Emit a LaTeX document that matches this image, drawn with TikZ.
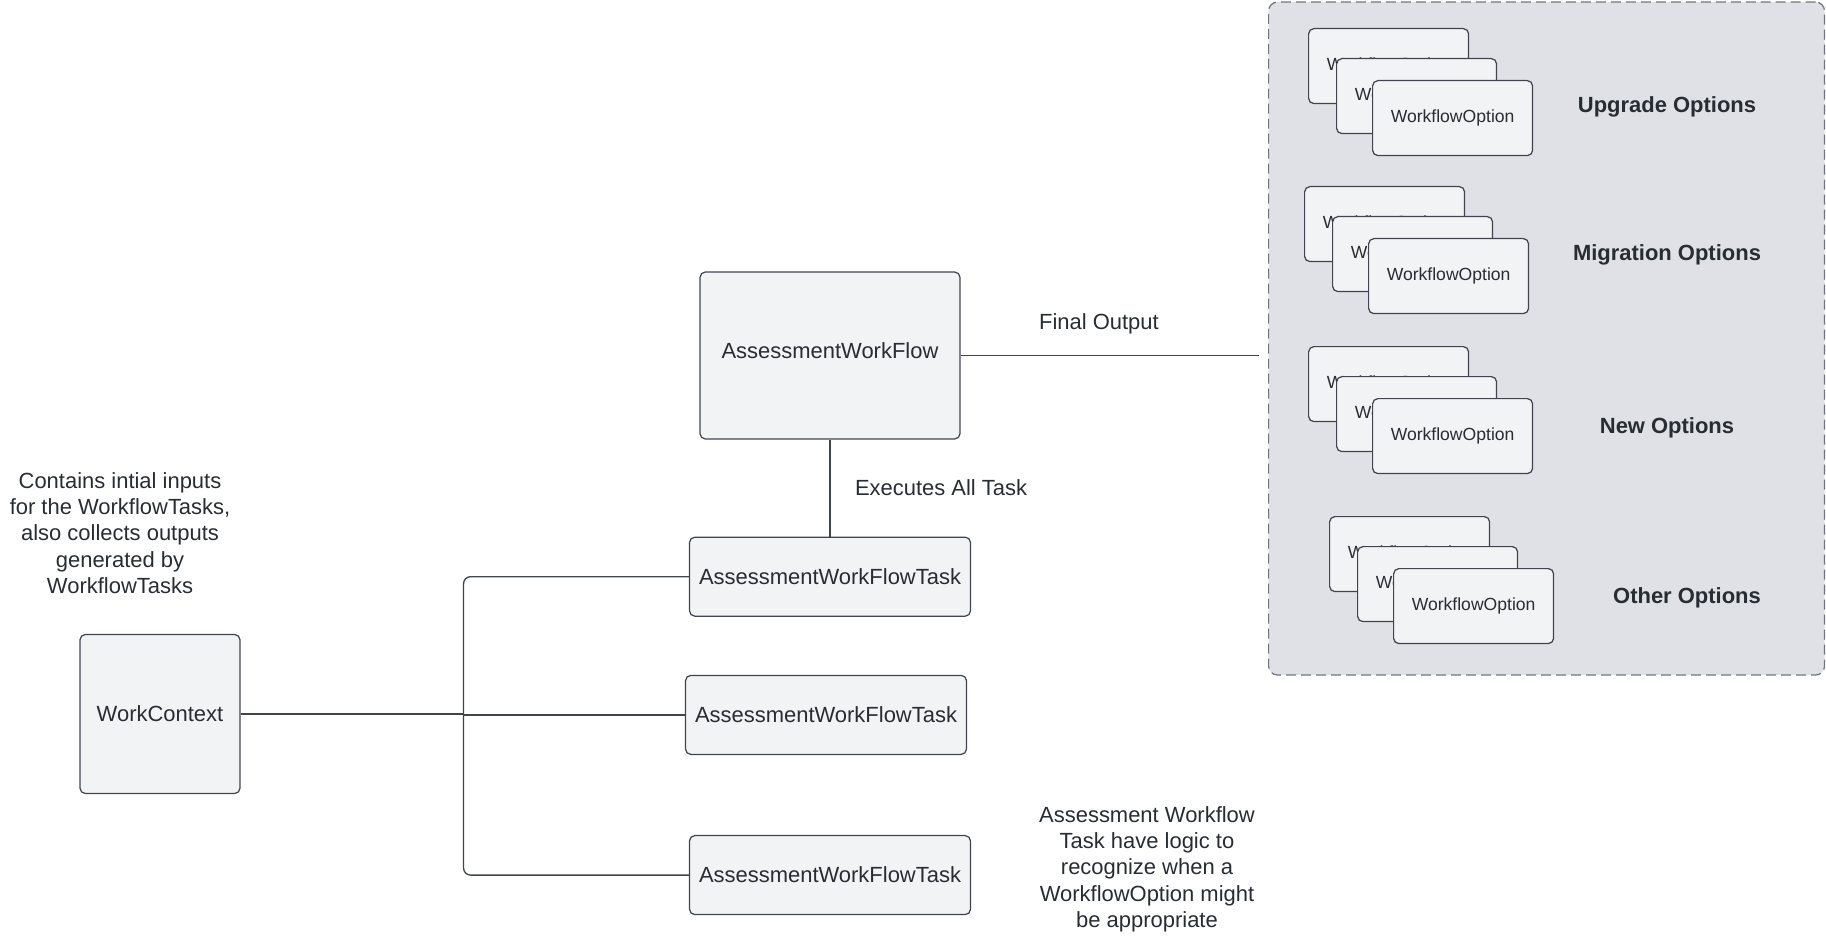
\documentclass[tikz,border=0pt]{standalone}
\usepackage{fontspec}
\setmainfont{Liberation Sans}
\usetikzlibrary{positioning}
\definecolor{ink}{HTML}{282C33}
\definecolor{edge}{HTML}{40454D}
\definecolor{paper}{HTML}{F2F3F5}
\definecolor{panelfill}{HTML}{DFE1E6}
\definecolor{panelline}{HTML}{70757D}
\tikzset{
  box/.style={draw=edge, line width=0.7pt, fill=paper, rounded corners=3pt, align=center, text=ink, font=\fontsize{12.5}{15}\selectfont, inner sep=2pt},
  flowbox/.style={box, minimum width=5.2cm, minimum height=3.34cm},
  ctxbox/.style={box, minimum width=3.2cm, minimum height=3.18cm},
  taskbox/.style={box, minimum width=5.62cm, minimum height=1.58cm},
  option/.style={box, font=\fontsize{10}{12}\selectfont, minimum width=3.2cm, minimum height=1.5cm, anchor=north west},
  panel/.style={draw=panelline, line width=0.7pt, dash pattern=on 0.2cm off 0.1cm, fill=panelfill, rounded corners=5pt, minimum width=11.12cm, minimum height=13.46cm, inner sep=0pt, anchor=north west},
  link/.style={draw=edge, line width=0.75pt},
  note/.style={align=center, text=ink, font=\fontsize{12.5}{15}\selectfont},
  heading/.style={text=ink, font=\fontsize{12.5}{15}\selectfont\bfseries}
}

\begin{document}
\begin{tikzpicture}[x=0.02cm, y=-0.02cm]
\useasboundingbox (0,0) rectangle (1826,939);
\node[panel] (opts) at (1268,1.5) {};
\node[option] (up1) at (1308,28) {WorkflowOption};
\node[option] (up2) at ([shift={(28,30)}]up1.north west) {WorkflowOption};
\node[option] (up3) at ([shift={(64,52)}]up1.north west) {WorkflowOption};
\node[heading] (uplabel) at (1667,106.5) {Upgrade Options};
\node[option] (mig1) at (1304,186) {WorkflowOption};
\node[option] (mig2) at ([shift={(28,30)}]mig1.north west) {WorkflowOption};
\node[option] (mig3) at ([shift={(64,52)}]mig1.north west) {WorkflowOption};
\node[heading] (miglabel) at (1667,254.5) {Migration Options};
\node[option] (new1) at (1308,346) {WorkflowOption};
\node[option] (new2) at ([shift={(28,30)}]new1.north west) {WorkflowOption};
\node[option] (new3) at ([shift={(64,52)}]new1.north west) {WorkflowOption};
\node[heading] (newlabel) at (1667,427.5) {New Options};
\node[option] (oth1) at (1329,516) {WorkflowOption};
\node[option] (oth2) at ([shift={(28,30)}]oth1.north west) {WorkflowOption};
\node[option] (oth3) at ([shift={(64,52)}]oth1.north west) {WorkflowOption};
\node[heading] (othlabel) at (1687,597.5) {Other Options};
\node[flowbox] (awf) at (830,355.5) {\raisebox{0.2cm}{AssessmentWorkFlow}};
\node[taskbox, below=1.94cm of awf] (t1) {AssessmentWorkFlowTask};
\node[taskbox, below=1.16cm of t1, xshift=-0.08cm] (t2) {AssessmentWorkFlowTask};
\node[taskbox, below=1.6cm of t2, xshift=0.08cm] (t3) {AssessmentWorkFlowTask};
\node[ctxbox] (wc) at (160,714) {WorkContext};
\node[note, anchor=north] (ctxnote) at (120,466) {Contains intial inputs\\for the WorkflowTasks,\\also collects outputs\\generated by\\WorkflowTasks};
\node[note, anchor=north] (tasknote) at (1147,800) {Assessment Workflow\\Task have logic to\\recognize when a\\WorkflowOption might\\be appropriate};
\coordinate[right=4.46cm of wc.east] (split);
\draw[link] (wc.east) -- (split);
\draw[link, rounded corners=4pt] (split) |- (t1.west);
\draw[link] (split) |- (t2.west);
\draw[link, rounded corners=4pt] (split) |- (t3.west);
\draw[link] (awf) -- node[note, right=0.37cm] {Executes All Task} (t1);
\draw[link, shorten >=0.18cm] (awf.east) -- node[note, pos=0.45, above=0.29cm] {Final Output} (awf.east -| opts.west);
\end{tikzpicture}
\end{document}
